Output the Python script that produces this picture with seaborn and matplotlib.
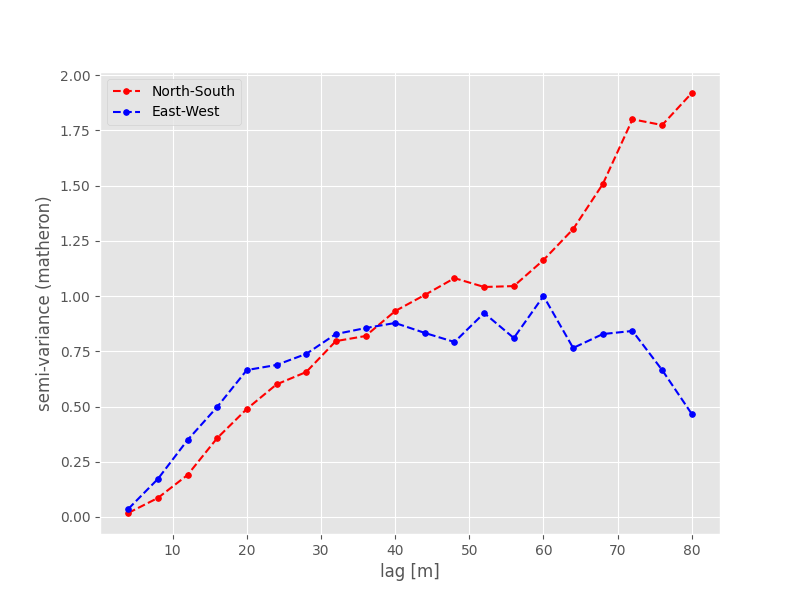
import matplotlib
matplotlib.use("Agg")
import matplotlib.pyplot as plt
import seaborn as sns
import pandas as pd

lags = [4, 8, 12, 16, 20, 24, 28, 32, 36, 40, 44, 48, 52, 56, 60, 64, 68, 72, 76, 80]
north_south = [0.018, 0.086, 0.19, 0.357, 0.489, 0.60, 0.656, 0.796, 0.819, 0.932,
               1.005, 1.081, 1.041, 1.045, 1.163, 1.303, 1.507, 1.80, 1.774, 1.919]
east_west = [0.036, 0.172, 0.348, 0.498, 0.665, 0.688, 0.738, 0.828, 0.855, 0.878,
             0.833, 0.792, 0.923, 0.81, 1.0, 0.765, 0.828, 0.842, 0.665, 0.466]

plt.style.use("ggplot")
fig, ax = plt.subplots(figsize=(8, 6), dpi=100)
sns.lineplot(x=lags, y=north_south, ax=ax, color="red", linestyle="--", marker=".",
             markersize=8, markeredgecolor="red", label="North-South")
sns.lineplot(x=lags, y=east_west, ax=ax, color="blue", linestyle="--", marker=".",
             markersize=8, markeredgecolor="blue", label="East-West")
ax.set_xlabel("lag [m]")
ax.set_ylabel("semi-variance (matheron)")
ax.legend(loc="upper left")
fig.savefig("out.png")
